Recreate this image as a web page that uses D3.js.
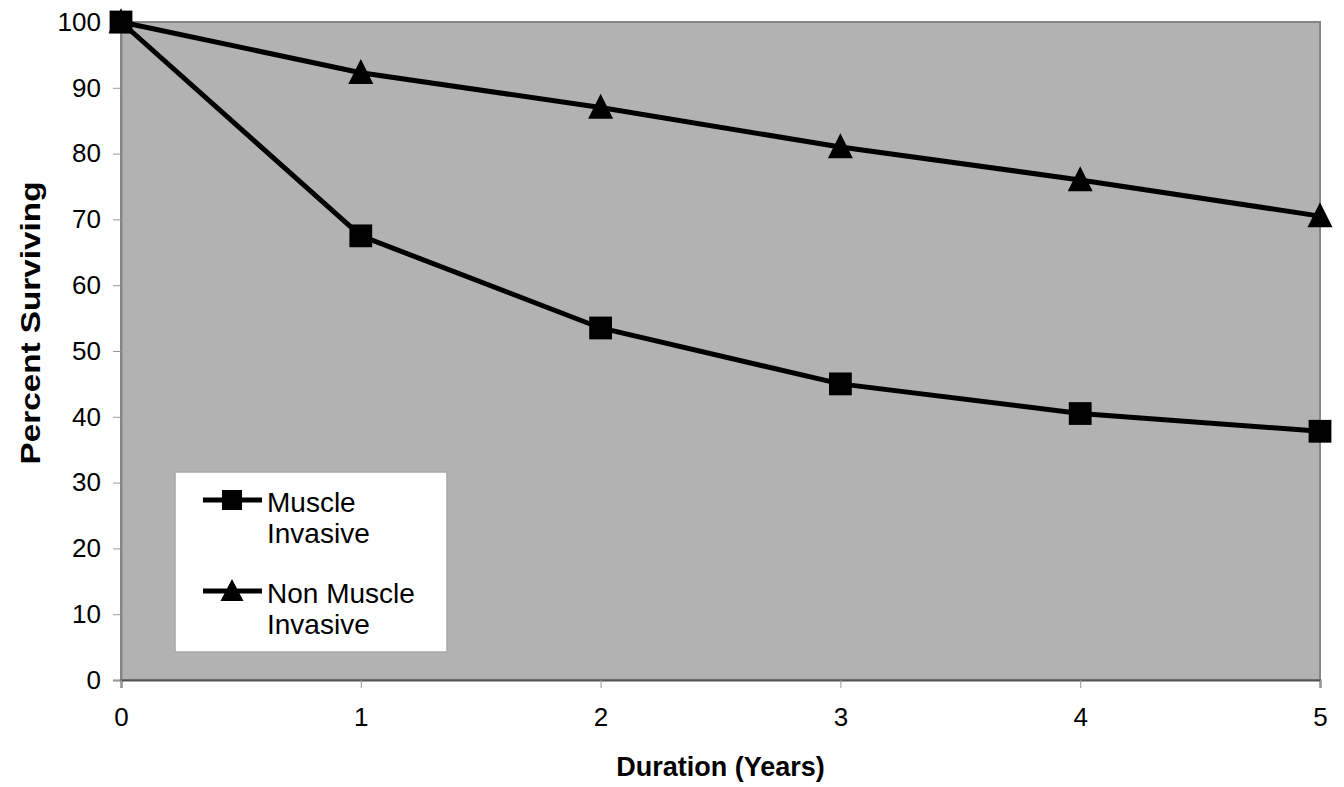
<!DOCTYPE html>
<html>
<head>
<meta charset="utf-8">
<script src="https://cdn.jsdelivr.net/npm/d3@7"></script>
<style>
  body { margin: 0; background: #fff; }
  svg { font-family: 'Liberation Sans', Arial, sans-serif; }
</style>
</head>
<body>
<svg id="chart" width="1344" height="787"></svg>
<script>
// values
const years = [0, 1, 2, 3, 4, 5];
const muscleInvasive = [100, 67.5, 53.5, 45, 40.5, 37.8];
const nonMuscleInvasive = [100, 92.3, 87, 81, 76, 70.5];
const yTicks = [0, 10, 20, 30, 40, 50, 60, 70, 80, 90, 100];
const seriesNames = [['Muscle', 'Invasive'], ['Non Muscle', 'Invasive']];

const margin = {top: 22, right: 24, bottom: 107, left: 121},
      width = 1344 - margin.left - margin.right,
      height = 787 - margin.top - margin.bottom;

const svg = d3.select('#chart');
const g = svg.append('g')
  .attr('transform', `translate(${margin.left},${margin.top})`);

const x = d3.scaleLinear().domain([0, 5]).range([0, width]);
const y = d3.scaleLinear().domain([0, 100]).range([height, 0]);

// plot area
g.append('rect')
  .attr('width', width)
  .attr('height', height)
  .attr('fill', '#b2b2b2')
  .attr('stroke', '#858585')
  .attr('stroke-width', 2);

// axes
const yAxis = g.append('g')
  .call(d3.axisLeft(y).tickValues(yTicks).tickSize(8).tickPadding(12));
const xAxis = g.append('g')
  .attr('transform', `translate(0,${height})`)
  .call(d3.axisBottom(x).tickValues(years).tickFormat(d3.format('d'))
        .tickSize(8).tickPadding(20));

[yAxis, xAxis].forEach(a => {
  a.attr('font-size', null).attr('font-family', null);
  a.select('.domain').attr('stroke', '#858585').attr('stroke-width', 2);
  a.selectAll('.tick line').attr('stroke', '#999');
  a.selectAll('.tick text')
    .attr('fill', '#000')
    .style('font-size', '26px');
});
xAxis.select('.domain').attr('stroke', '#555');

// axis titles
svg.append('text')
  .text('Duration (Years)')
  .attr('x', margin.left + width / 2)
  .attr('y', 776)
  .attr('text-anchor', 'middle')
  .style('font-size', '27px')
  .style('font-weight', 'bold');

svg.append('text')
  .text('Percent Surviving')
  .attr('transform', 'translate(40,323) rotate(-90)')
  .attr('text-anchor', 'middle')
  .attr('textLength', 283)
  .attr('lengthAdjust', 'spacingAndGlyphs')
  .style('font-size', '28px')
  .style('font-weight', 'bold');

// triangle a bit taller than equilateral, like the original markers
function triangleOf(w, h) {
  return {
    draw(ctx) {
      ctx.moveTo(0, -h * 0.55);
      ctx.lineTo(w / 2, h * 0.45);
      ctx.lineTo(-w / 2, h * 0.45);
      ctx.closePath();
    }
  };
}

const line = d3.line()
  .x((d, i) => x(years[i]))
  .y(d => y(d));

const square = d3.symbol().type(d3.symbolSquare).size(520);
const triangle = d3.symbol().type(triangleOf(25, 25));

const series = [
  {vals: nonMuscleInvasive, sym: triangle},
  {vals: muscleInvasive, sym: square}
];

series.forEach(s => {
  g.append('path')
    .datum(s.vals)
    .attr('d', line)
    .attr('fill', 'none')
    .attr('stroke', '#000')
    .attr('stroke-width', 5);

  g.selectAll(null)
    .data(s.vals)
    .enter()
    .append('path')
      .attr('d', s.sym)
      .attr('transform', (d, i) => `translate(${x(years[i])},${y(d)})`)
      .attr('fill', '#000');
});

// legend
const legend = svg.append('g').attr('transform', 'translate(175,472)');
legend.append('rect')
  .attr('width', 272)
  .attr('height', 180)
  .attr('fill', '#fff')
  .attr('stroke', '#a8a8a8')
  .attr('stroke-width', 1.5);

const legendSyms = [d3.symbol().type(d3.symbolSquare).size(400),
                    d3.symbol().type(triangleOf(23, 22))];
const legendY = [28, 119];

seriesNames.forEach((names, i) => {
  const row = legend.append('g').attr('transform', `translate(0,${legendY[i]})`);
  row.append('line')
    .attr('x1', 28).attr('x2', 87)
    .attr('stroke', '#000').attr('stroke-width', 5);
  row.append('path')
    .attr('d', legendSyms[i])
    .attr('transform', 'translate(57,0)')
    .attr('fill', '#000');
  names.forEach((t, j) => {
    row.append('text')
      .text(t)
      .attr('x', 92)
      .attr('y', 12 + j * 31)
      .style('font-size', '28px');
  });
});
</script>
</body>
</html>
